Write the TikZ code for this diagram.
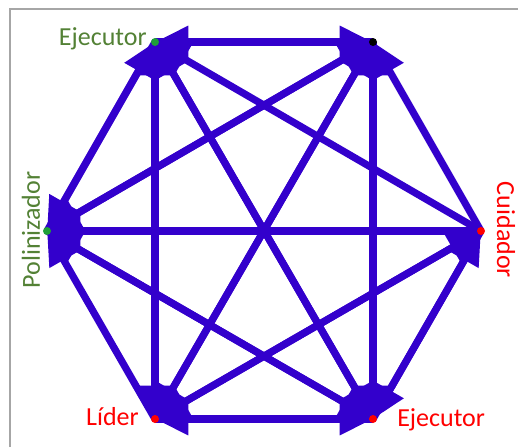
\documentclass[tikz,border=0pt]{standalone}
\usepackage{fontspec}
\setmainfont{Carlito}
\usepackage{tikz}
\usetikzlibrary{arrows.meta}
\definecolor{cArc}      {HTML}{3300CC}
\definecolor{cLabelGreen}{HTML}{538135}
\definecolor{cDotGreen} {HTML}{1F9F3A}
\definecolor{cRed}      {HTML}{FF0000}
\definecolor{cFrame}    {HTML}{A6A6A6}

\begin{document}
\begin{tikzpicture}[x=0.75pt, y=-0.75pt,
    arc/.style={draw=cArc, line width=5.4pt, -{Triangle[length=25pt, width=23pt]}},
    dot/.style={circle, inner sep=0pt, minimum size=6pt},
    lbl/.style={inner sep=0pt, font=\fontsize{19.5}{22}\selectfont}]
  \useasboundingbox (0,0) rectangle (518,447);
  % frame, only top and left side show
  \draw[cFrame, line width=1.5pt] (10,447) -- (10,9) -- (518,9);
  % hexagon corners
  \coordinate (tl) at (155,42);
  \coordinate (tr) at (373,42);
  \coordinate (l)  at (47,231);
  \coordinate (r)  at (481,231);
  \coordinate (bl) at (155,419);
  \coordinate (br) at (373,419);
  % directed arcs, source/target
  \foreach \s/\t in {tr/tl, r/tl, br/tl, bl/tl, l/tl,
                     tl/tr, l/tr, bl/tr, br/tr, r/tr,
                     tl/l, tr/l, r/l, br/l, bl/l,
                     bl/r, br/r,
                     tl/bl, tr/bl, r/bl, br/bl,
                     bl/br, l/br, tl/br, tr/br, r/br}{
    \draw[arc] (\s) -- (\t);
  }
  % corner dots
  \foreach \v/\c in {tl/cDotGreen, tr/black, l/cDotGreen, r/cRed, bl/cRed, br/cRed}{
    \node[dot, fill=\c] (dot-\v) at (\v) {};
  }
  \node[lbl, text=cLabelGreen, anchor=base east] (lbl-tl) at (147,45) {Ejecutor};
  \node[lbl, text=cLabelGreen, anchor=base, rotate=90] (lbl-l) at (40,230) {Polinizador};
  \node[lbl, text=cRed, anchor=base, rotate=-90] (lbl-r) at (497,230) {Cuidador};
  \node[lbl, text=cRed, anchor=base east] (lbl-bl) at (139,425) {Líder};
  \node[lbl, text=cRed, anchor=base west] (lbl-br) at (397,426) {Ejecutor};
\end{tikzpicture}
\end{document}
